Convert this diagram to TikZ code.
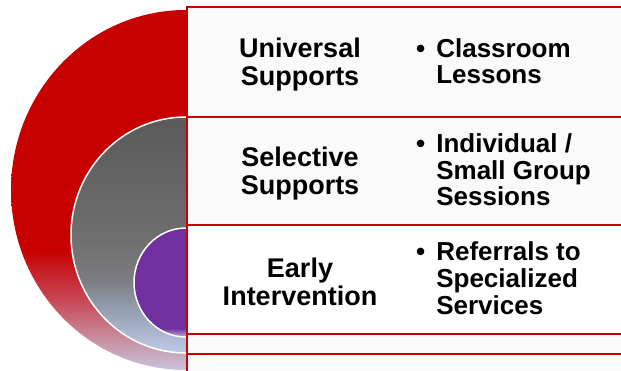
\documentclass[tikz,border=0pt]{standalone}
\usepackage{fontspec}
\setmainfont{Liberation Sans}
\definecolor{boxred}{RGB}{200,0,0}
\definecolor{boxfill}{RGB}{250,250,250}
\definecolor{rlav}{RGB}{200,196,220}
\definecolor{rpink}{RGB}{200,144,159}
\definecolor{rrose}{RGB}{200,72,88}
\definecolor{gtop}{RGB}{90,90,90}
\definecolor{gmid}{RGB}{110,110,110}
\definecolor{gg1}{RGB}{124,124,128}
\definecolor{gg2}{RGB}{140,148,164}
\definecolor{gg3}{RGB}{168,180,202}
\definecolor{gbot}{RGB}{188,204,230}
\definecolor{purp}{RGB}{112,48,160}
\definecolor{plav}{RGB}{190,172,215}
\pgfdeclareverticalshading{redfade}{100bp}{color(0bp)=(rlav); color(25bp)=(rlav); color(29.2bp)=(rpink); color(34.7bp)=(rrose); color(41.7bp)=(boxred); color(100bp)=(boxred)}
\pgfdeclareverticalshading{grayfade}{100bp}{color(0bp)=(gbot); color(25bp)=(gbot); color(29.9bp)=(gg3); color(36.2bp)=(gg2); color(40.5bp)=(gg1); color(50bp)=(gmid); color(75bp)=(gtop); color(100bp)=(gtop)}
\pgfdeclareverticalshading{purpfade}{100bp}{color(0bp)=(plav); color(25bp)=(plav); color(29bp)=(purp); color(100bp)=(purp)}
\begin{document}
\begin{tikzpicture}[x=1pt,y=1pt,
  box/.style={draw=boxred, line width=2pt, fill=boxfill, rectangle, anchor=north west,
    minimum width=443pt, inner sep=0pt, outer sep=0pt},
  lefttext/.style={align=center, inner sep=0pt, yshift=-2.5pt, font=\fontsize{27}{28}\selectfont\bfseries},
  righttext/.style={anchor=west, inner sep=0pt, yshift=-2.5pt, font=\fontsize{26}{26}\selectfont\bfseries}]
\useasboundingbox (0,0) rectangle (621,370);
% nested half circles
\shade[shading=redfade] (186,360) arc[start angle=90, end angle=270, x radius=175, y radius=180] -- cycle;
\shade[shading=grayfade] (186,253) arc[start angle=90, end angle=270, x radius=115, y radius=118] -- cycle;
\draw[white, line width=1.5pt] (186,253) arc[start angle=90, end angle=270, x radius=115, y radius=118];
\shade[shading=purpfade] (186,142) arc[start angle=90, end angle=270, x radius=52, y radius=54.5] -- cycle;
\draw[white, line width=1.5pt] (186,142) arc[start angle=90, end angle=270, x radius=52, y radius=54.5];
% boxes
\node[box, minimum height=110pt] (b1) at (187,363) {};
\node[box, minimum height=108pt] (b2) at (187,253) {};
\node[box, minimum height=109pt, fill=white] (b3) at (187,145) {};
\node[box, minimum height=20pt] (b4) at (187,36) {};
\node[box, minimum height=30pt] (b5) at (187,16) {};
% texts
\node[lefttext] (l1) at (300,0 |- b1.center) {Universal\\Supports};
\node[lefttext] (l2) at (300,0 |- b2.center) {Selective\\Supports};
\node[lefttext] (l3) at (300,0 |- b3.center) {Early\\Intervention};
\node[righttext] (r1) at (416,0 |- b1.center) {\begin{tabular}{@{}l@{\hspace{11pt}}l@{}}\textbullet & Classroom\\ & Lessons\end{tabular}};
\node[righttext] (r2) at (416,0 |- b2.center) {\begin{tabular}{@{}l@{\hspace{11pt}}l@{}}\textbullet & Individual /\\ & Small Group\\ & Sessions\end{tabular}};
\node[righttext] (r3) at (416,0 |- b3.center) {\begin{tabular}{@{}l@{\hspace{11pt}}l@{}}\textbullet & Referrals to\\ & Specialized\\ & Services\end{tabular}};
\end{tikzpicture}
\end{document}
